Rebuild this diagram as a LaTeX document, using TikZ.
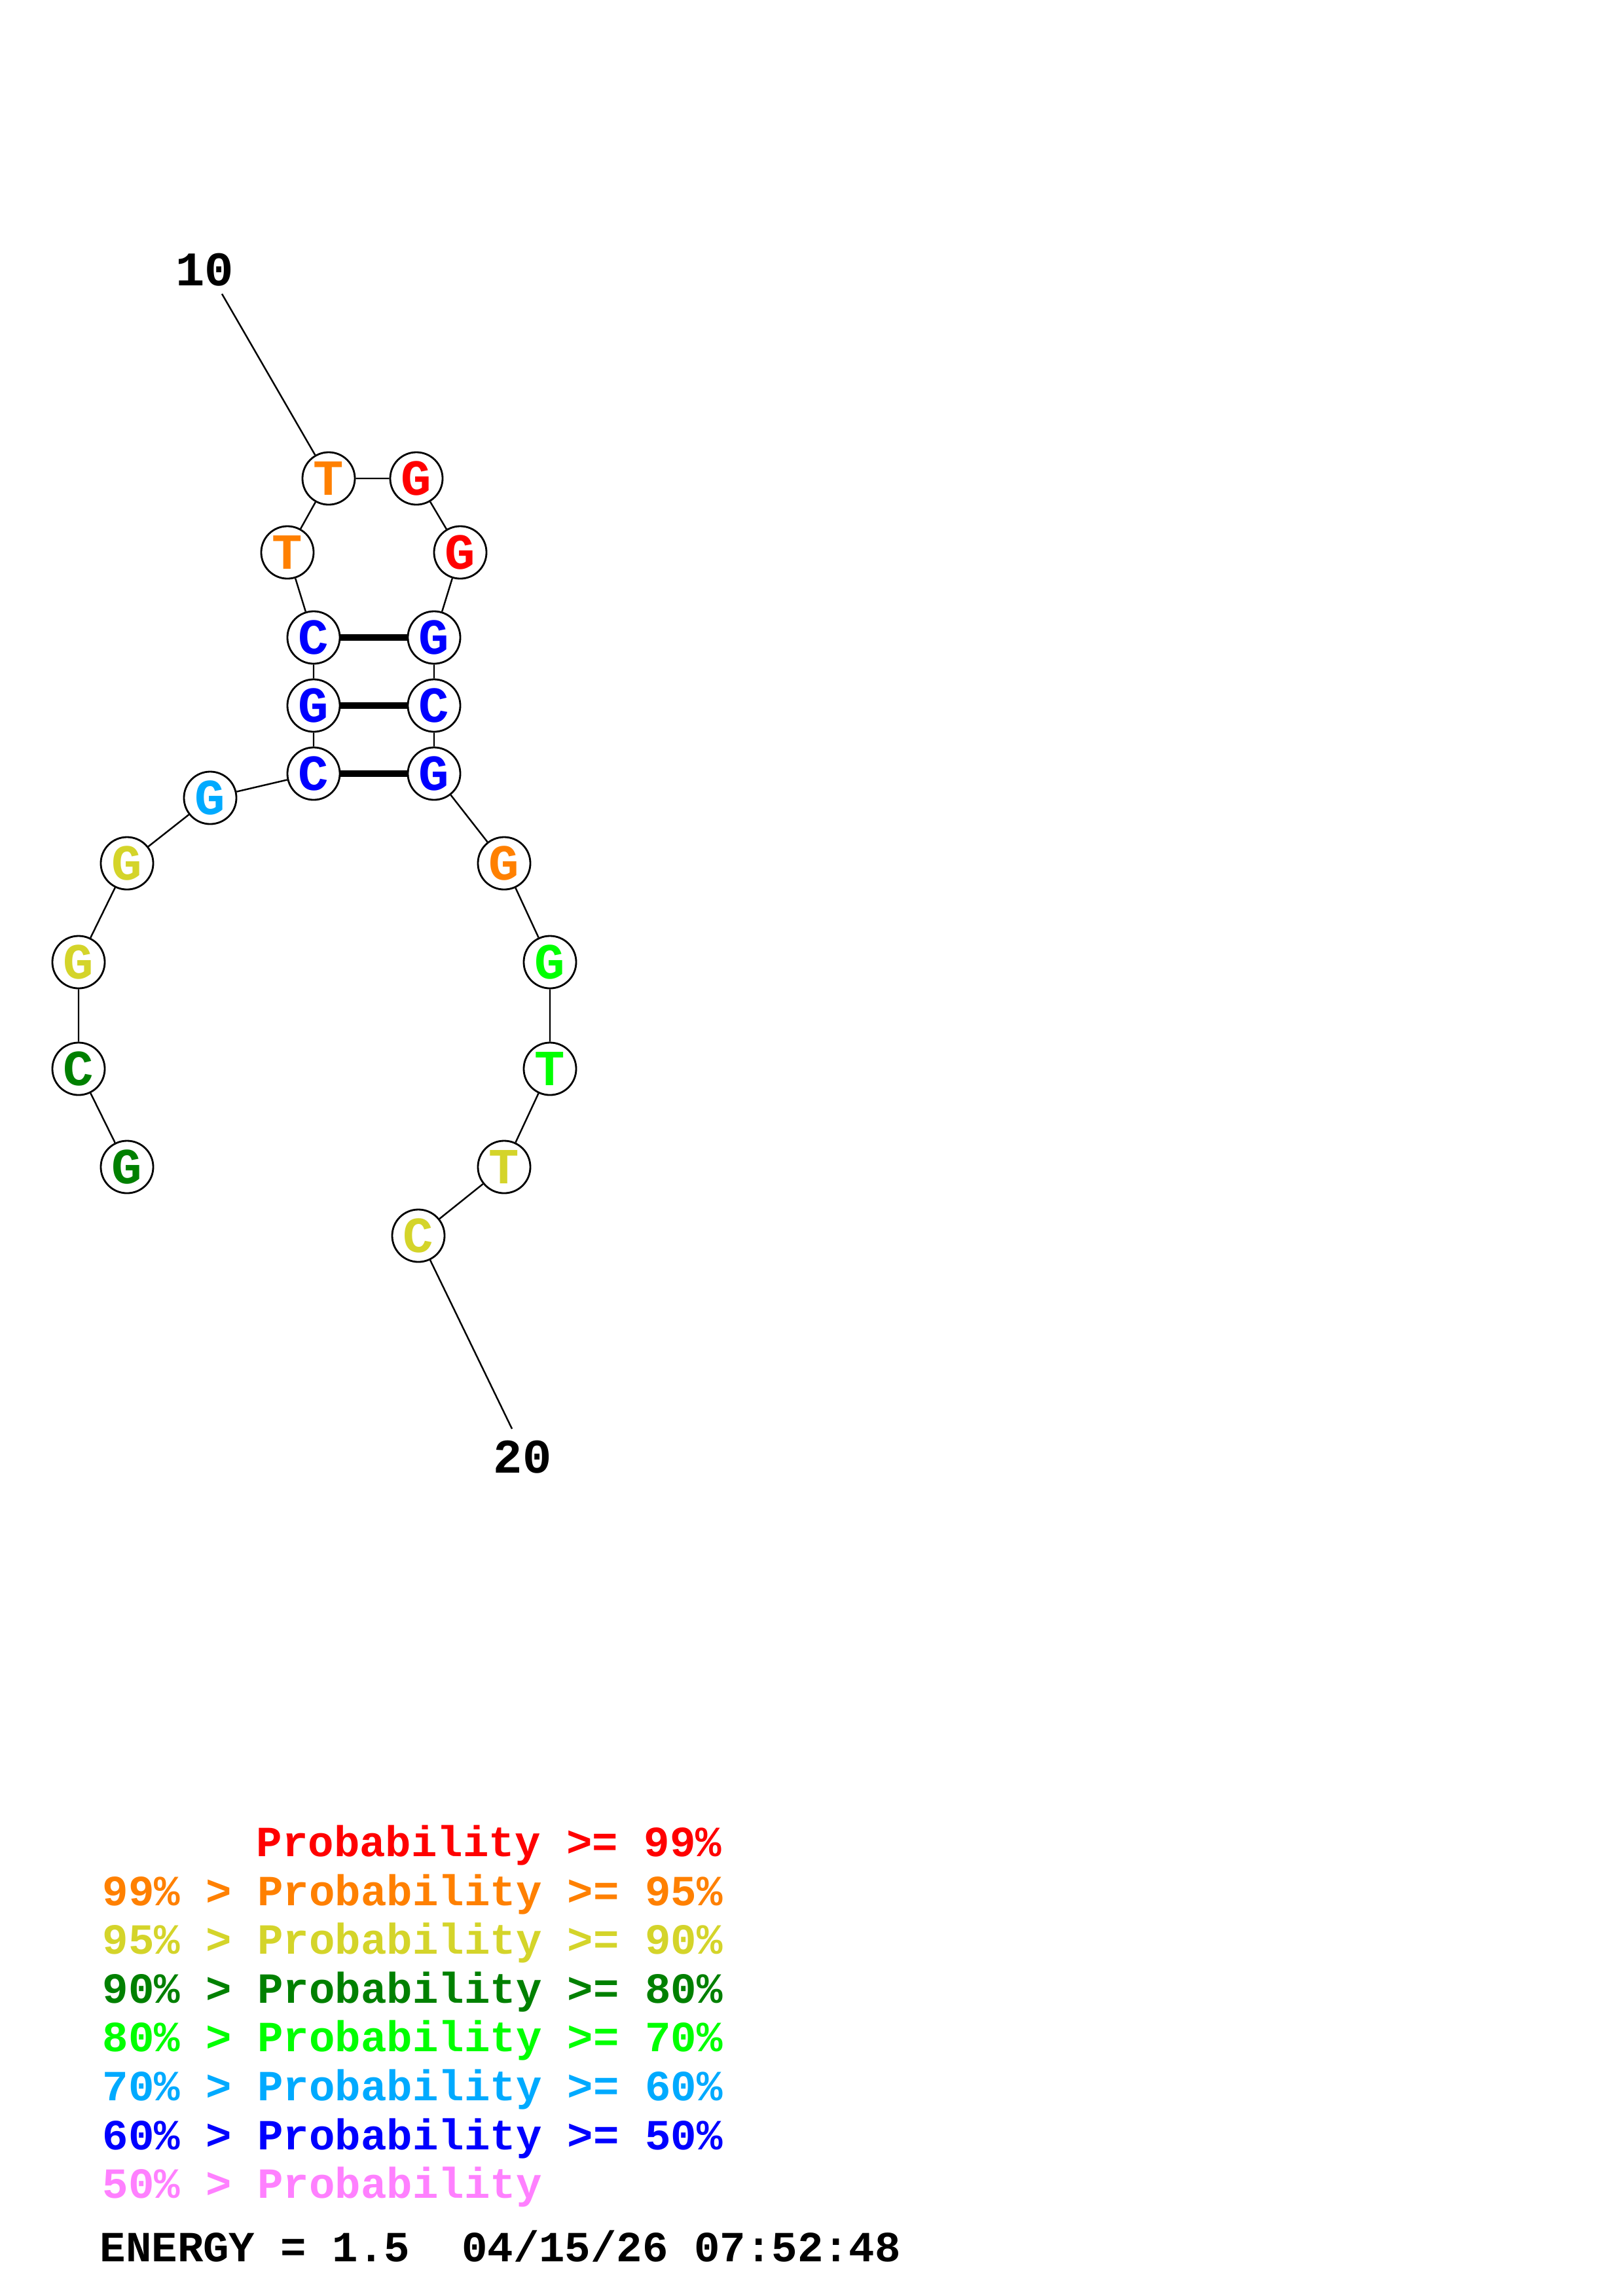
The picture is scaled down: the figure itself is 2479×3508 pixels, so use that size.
\documentclass[tikz,border=0pt]{standalone}
\usepackage{fontspec}
\setmonofont{Liberation Mono}
\usetikzlibrary{positioning}

\definecolor{pred}{RGB}{255,0,0}
\definecolor{porange}{RGB}{255,128,0}
\definecolor{pyellow}{RGB}{212,212,42}
\definecolor{pdgreen}{RGB}{0,128,0}
\definecolor{plime}{RGB}{0,255,0}
\definecolor{psky}{RGB}{0,170,255}
\definecolor{pblue}{RGB}{0,0,255}
\definecolor{ppink}{RGB}{255,128,255}

\begin{document}
\begin{tikzpicture}[
  x=0.01cm, y=-0.01cm,
  base/.style={draw, circle, fill=white, line width=0.8pt, minimum size=0.8cm,
    inner sep=0pt, font=\fontsize{22}{22}\selectfont\ttfamily\bfseries},
  numlabel/.style={inner sep=0pt, font=\fontsize{21}{21}\selectfont\ttfamily\bfseries},
  bond/.style={line width=0.7pt},
  pair/.style={line width=2.6pt},
  legend/.style={anchor=base west, inner sep=0pt,
    font=\fontsize{18.7}{18.7}\selectfont\ttfamily\bfseries}
]
\useasboundingbox (0,0) rectangle (2479,3508);

% 5' arm
\node[base, text=pdgreen] (n1) at (194,1783) {G};
\node[base, text=pdgreen] (n2) at (120,1633) {C};
\node[base, text=pyellow] (n3) at (120,1470) {G};
\node[base, text=pyellow] (n4) at (194,1319) {G};
\node[base, text=psky] (n5) at (321,1219) {G};

% Stem and hairpin loop
\node[base, text=pblue] (n6) at (479,1182) {C};
\node[base, text=pblue] (n7) at (479,1078) {G};
\node[base, text=pblue] (n8) at (479,974) {C};
\node[base, text=porange] (n9) at (439,844) {T};
\node[base, text=porange] (n10) at (502,731) {T};
\node[base, text=pred] (n11) at (636,731) {G};
\node[base, text=pred] (n12) at (703,844) {G};
\node[base, text=pblue] (n13) at (663,974) {G};
\node[base, text=pblue] (n14) at (663,1078) {C};
\node[base, text=pblue] (n15) at (663,1182) {G};

% 3' arm
\node[base, text=porange] (n16) at (770,1319) {G};
\node[base, text=plime] (n17) at (840,1470) {G};
\node[base, text=plime] (n18) at (840,1633) {T};
\node[base, text=pyellow] (n19) at (770,1783) {T};
\node[base, text=pyellow] (n20) at (639,1888) {C};

% Position numbers
\node[numlabel] (lab10) at (313,412) {10};
\node[numlabel] (lab20) at (798,2226) {20};
\coordinate (tick10) at (339,449);
\coordinate (tick20) at (782,2183);

% Backbone
\draw[bond] (n1) -- (n2) -- (n3) -- (n4) -- (n5) -- (n6) -- (n7) -- (n8) -- (n9) -- (n10);
\draw[bond] (n10) -- (n11) -- (n12) -- (n13) -- (n14) -- (n15) -- (n16) -- (n17) -- (n18) -- (n19) -- (n20);
\draw[bond] (tick10) -- (n10);
\draw[bond] (n20) -- (tick20);

% Base pairs
\draw[pair] (n6) -- (n15);
\draw[pair] (n7) -- (n14);
\draw[pair] (n8) -- (n13);

% Legend
\node[legend, text=pred] (leg1) at (391,2836) {Probability >= 99\%};
\node[legend, text=porange] (leg2) at (156,2911) {99\% > Probability >= 95\%};
\node[legend, text=pyellow] (leg3) at (156,2985) {95\% > Probability >= 90\%};
\node[legend, text=pdgreen] (leg4) at (156,3060) {90\% > Probability >= 80\%};
\node[legend, text=plime] (leg5) at (156,3134) {80\% > Probability >= 70\%};
\node[legend, text=psky] (leg6) at (156,3209) {70\% > Probability >= 60\%};
\node[legend, text=pblue] (leg7) at (156,3284) {60\% > Probability >= 50\%};
\node[legend, text=ppink] (leg8) at (156,3358) {50\% > Probability};
\node[legend] (energy) at (152,3455) {ENERGY = 1.5\ \ 04/15/26 07:52:48};

\end{tikzpicture}
\end{document}
